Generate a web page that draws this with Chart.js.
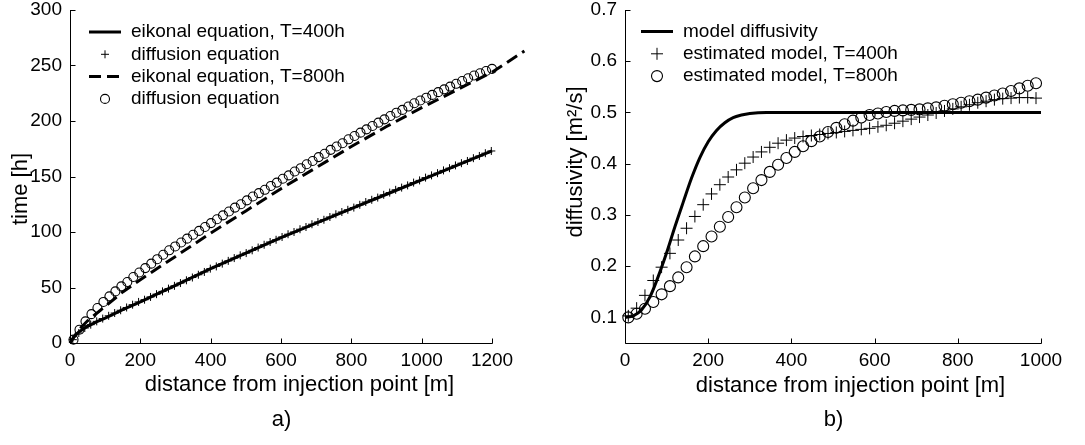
<!DOCTYPE html>
<html><head><meta charset="utf-8">
<script src="https://cdn.jsdelivr.net/npm/chart.js@4"></script>
<style>
html,body{margin:0;padding:0;background:#fff;}
#wrap{position:relative;width:1085px;height:445px;overflow:hidden;}
#c1{position:absolute;left:0;top:0;}
#c2{position:absolute;left:540px;top:0;}
</style></head><body>
<div id="wrap"><canvas id="c1" width="540" height="445"></canvas><canvas id="c2" width="545" height="445"></canvas></div>
<script>
// ---------- Panel a) data ----------
const aXTicks = [0, 200, 400, 600, 800, 1000, 1200];
const aYTicks = [0, 50, 100, 150, 200, 250, 300];
const aLabels = ['eikonal equation, T=400h', 'diffusion equation', 'eikonal equation, T=800h', 'diffusion equation'];

const eik400X = [0, 10, 25, 50, 75, 100, 150, 200, 300, 400, 500, 600, 700, 800, 900, 1000, 1100, 1200];
const eik400Y = [0, 5, 10, 15, 19, 22.5, 30, 37, 52, 67, 81, 95, 108, 121, 134, 147, 160, 173];

const dif400X = [8, 25, 42, 59, 76, 93, 110, 127, 144, 161, 178, 195, 212, 229, 246, 263, 280, 297, 314, 331, 348, 365, 382, 399, 416, 433, 450, 467, 484, 501, 518, 535, 552, 569, 586, 603, 620, 637, 654, 671, 688, 705, 722, 739, 756, 773, 790, 807, 824, 841, 858, 875, 892, 909, 926, 943, 960, 977, 994, 1011, 1028, 1045, 1062, 1079, 1096, 1113, 1130, 1147, 1164, 1181, 1198];
const dif400Y = [3, 9, 13.5, 16.5, 19.5, 22, 24.5, 27, 29.5, 32, 34.5, 37, 39, 41.5, 44, 46.5, 49, 51.5, 54, 56.5, 59, 61.5, 64, 67, 69, 71.5, 74, 76.5, 79, 81, 83.5, 86, 88.5, 91, 93, 95.5, 98, 100, 102.5, 104.5, 107, 109, 111, 113.5, 116, 118, 120, 122, 124.5, 127, 129, 131, 133.5, 135.5, 138, 140, 142, 144.5, 146.5, 149, 151, 153, 155.5, 157.5, 160, 162, 164, 166.5, 168.5, 171, 173];

const eik800X = [0, 25, 50, 100, 150, 200, 300, 400, 500, 600, 700, 800, 900, 1000, 1100, 1200, 1292];
const eik800Y = [0, 12, 20, 33, 46, 57, 78, 99, 119, 139, 158, 177, 195, 212, 228, 244, 263];

const dif800X = [10, 27, 44, 61, 78, 95, 112, 129, 146, 163, 180, 197, 214, 231, 248, 265, 282, 299, 316, 333, 350, 367, 384, 401, 418, 435, 452, 469, 486, 503, 520, 537, 554, 571, 588, 605, 622, 639, 656, 673, 690, 707, 724, 741, 758, 775, 792, 809, 826, 843, 860, 877, 894, 911, 928, 945, 962, 979, 996, 1013, 1030, 1047, 1064, 1081, 1098, 1115, 1132, 1149, 1166, 1183, 1200];
const dif800Y = [3, 12, 19.5, 26, 31.5, 37, 42, 46.5, 51, 55, 59.5, 63.5, 67.5, 71.5, 75.5, 79.5, 83.5, 87, 90.5, 94, 97.5, 101, 104.5, 108, 111.5, 115, 118.5, 122, 125, 128.5, 132, 135, 138, 141.5, 144.5, 148, 151, 154.5, 157.5, 161, 164, 167.5, 170.5, 174, 177, 180, 183.5, 186.5, 189.5, 192.5, 195.5, 198.5, 201.5, 204.5, 207.5, 210, 213, 216, 218.5, 221, 223.5, 226, 228.5, 231, 233.5, 236, 238.5, 241, 243, 245, 247];

// ---------- Panel b) data ----------
const bXTicks = [0, 200, 400, 600, 800, 1000];
const bYTicks = [0.1, 0.2, 0.3, 0.4, 0.5, 0.6, 0.7];
const bLabels = ['model diffusivity', 'estimated model, T=400h', 'estimated model, T=800h'];

const modelX = [0, 20, 40, 60, 80, 100, 120, 140, 160, 180, 200, 220, 240, 260, 280, 300, 340, 400, 1000];
const modelY = [0.1, 0.103, 0.115, 0.14, 0.18, 0.226, 0.277, 0.325, 0.372, 0.412, 0.443, 0.465, 0.48, 0.49, 0.495, 0.498, 0.5, 0.5, 0.5];

const est400X = [8, 28, 48, 68, 88, 108, 128, 148, 168, 188, 208, 228, 248, 268, 288, 308, 328, 348, 368, 388, 408, 428, 448, 468, 488, 508, 528, 548, 568, 588, 608, 628, 648, 668, 688, 708, 728, 748, 768, 788, 808, 828, 848, 868, 888, 908, 928, 948, 968, 988];
const est400Y = [0.103, 0.118, 0.143, 0.172, 0.198, 0.225, 0.251, 0.274, 0.297, 0.32, 0.341, 0.359, 0.374, 0.388, 0.401, 0.413, 0.423, 0.432, 0.44, 0.446, 0.45, 0.453, 0.455, 0.457, 0.459, 0.461, 0.463, 0.465, 0.467, 0.469, 0.472, 0.475, 0.479, 0.483, 0.487, 0.491, 0.495, 0.499, 0.503, 0.507, 0.511, 0.515, 0.519, 0.522, 0.525, 0.527, 0.528, 0.529, 0.529, 0.528];

const est800X = [8, 28, 48, 68, 88, 108, 128, 148, 168, 188, 208, 228, 248, 268, 288, 308, 328, 348, 368, 388, 408, 428, 448, 468, 488, 508, 528, 548, 568, 588, 608, 628, 648, 668, 688, 708, 728, 748, 768, 788, 808, 828, 848, 868, 888, 908, 928, 948, 968, 988];
const est800Y = [0.1, 0.107, 0.117, 0.13, 0.145, 0.161, 0.178, 0.198, 0.219, 0.239, 0.258, 0.277, 0.296, 0.315, 0.334, 0.352, 0.368, 0.384, 0.398, 0.411, 0.423, 0.434, 0.444, 0.453, 0.462, 0.47, 0.477, 0.484, 0.49, 0.495, 0.498, 0.501, 0.503, 0.504, 0.505, 0.506, 0.508, 0.51, 0.513, 0.516, 0.519, 0.522, 0.525, 0.529, 0.533, 0.537, 0.542, 0.547, 0.552, 0.557];

// ---------- helpers ----------
const FONT = "'Liberation Sans', Arial, Helvetica, sans-serif";
const zip = (xs, ys) => xs.map((x, i) => ({x: x, y: ys[i]}));

const decor = {
  id: 'decor',
  afterDraw(chart, args, o) {
    const ctx = chart.ctx, xs = chart.scales.x, ys = chart.scales.y, a = chart.chartArea;
    const x0 = Math.round(xs.getPixelForValue(o.axisX[0])) + 0.5;
    const x1 = Math.round(xs.getPixelForValue(o.axisX[1])) + 0.5;
    const yb = Math.round(a.bottom) + 0.5, yt = Math.round(a.top);
    ctx.save();
    ctx.strokeStyle = '#000'; ctx.lineWidth = 1; ctx.setLineDash([]);
    ctx.beginPath();
    ctx.moveTo(x0, yt); ctx.lineTo(x0, yb); ctx.lineTo(x1, yb);
    xs.ticks.forEach((t, i) => { const px = Math.round(xs.getPixelForTick(i)) + 0.5; ctx.moveTo(px, yb); ctx.lineTo(px, yb - o.tick); });
    ys.ticks.forEach((t, i) => { const py = Math.round(ys.getPixelForTick(i)) + 0.5; ctx.moveTo(x0, py); ctx.lineTo(x0 + o.tick, py); });
    ctx.stroke();
    ctx.fillStyle = '#000';
    ctx.font = '22px ' + FONT; ctx.textAlign = 'center'; ctx.textBaseline = 'middle';
    const cx = (x0 + x1) / 2;
    ctx.fillText(o.panel, cx, o.panelY);
    ctx.fillText(o.xTitle, cx + o.xTitleDx, o.xTitleY);
    ctx.save();
    ctx.translate(o.yTitleX, o.yTitleY); ctx.rotate(-Math.PI / 2);
    ctx.fillText(o.yTitle, 0, 0);
    ctx.restore();
    // legend
    ctx.font = o.legFont + 'px ' + FONT; ctx.textAlign = 'left';
    chart.data.datasets.forEach((ds, i) => {
      const y = o.legY + i * o.legDy;
      ctx.save();
      ctx.strokeStyle = ds.borderColor;
      if (ds.showLine) {
        ctx.lineWidth = ds.borderWidth;
        ctx.setLineDash(ds.borderDash || []);
        ctx.beginPath(); ctx.moveTo(o.lx1, y); ctx.lineTo(o.lx2, y); ctx.stroke();
      } else {
        const mx = (o.lx1 + o.lx2) / 2, r = o.legR[i];
        ctx.lineWidth = ds.borderWidth;
        ctx.beginPath();
        if (ds.pointStyle === 'cross') { ctx.moveTo(mx - r, y); ctx.lineTo(mx + r, y); ctx.moveTo(mx, y - r); ctx.lineTo(mx, y + r); }
        else { ctx.arc(mx, y, r, 0, Math.PI * 2); }
        ctx.stroke();
      }
      ctx.restore();
      ctx.fillText(ds.label, o.tx, y);
    });
    ctx.restore();
  }
};

function lineDs(label, xs, ys, dash, extra) {
  return Object.assign({label, data: zip(xs, ys), showLine: true, borderColor: '#000', borderWidth: 3, borderDash: dash, pointRadius: 0, pointHoverRadius: 0, tension: 0, clip: false}, extra || {});
}
function markDs(label, xs, ys, style, r, bw) {
  return {label, data: zip(xs, ys), showLine: false, borderColor: '#000', backgroundColor: 'rgba(0,0,0,0)', borderWidth: bw, pointStyle: style, pointRadius: r, pointHoverRadius: r, clip: false};
}
function noPad(s) { s.paddingTop = 0; s.paddingBottom = 0; s.paddingLeft = 0; s.paddingRight = 0; }

function makeOpts(cfg) {
  return {
    responsive: false, animation: false, devicePixelRatio: 1, events: [],
    layout: {padding: {left: 0, top: 10, right: cfg.padRight, bottom: 0}},
    plugins: {legend: {display: false}, tooltip: {enabled: false}, decor: cfg.decor},
    scales: {
      x: {
        type: 'linear', min: cfg.xmin, max: cfg.xmax,
        afterFit: s => { s.height = 102; noPad(s); },
        afterBuildTicks: s => { s.ticks = cfg.xTicks.map(v => ({value: v})); },
        grid: {display: false, drawTicks: false},
        border: {display: false},
        ticks: {color: '#000', font: {family: FONT, size: 19}, padding: 6, maxRotation: 0, autoSkip: false, callback: v => String(v)},
        title: {display: false}
      },
      y: {
        type: 'linear', min: cfg.ymin, max: cfg.ymax,
        afterFit: s => { s.width = cfg.yWidth; noPad(s); },
        afterBuildTicks: s => { s.ticks = cfg.yTicks.map(v => ({value: v})); },
        grid: {display: false, drawTicks: false},
        border: {display: false},
        ticks: {color: '#000', font: {family: FONT, size: 19}, padding: 8, autoSkip: false, callback: cfg.yFmt},
        title: {display: false}
      }
    }
  };
}

new Chart(document.getElementById('c1'), {
  type: 'scatter',
  data: {datasets: [
    lineDs(aLabels[0], eik400X, eik400Y, []),
    markDs(aLabels[1], dif400X, dif400Y, 'cross', 4, 1),
    lineDs(aLabels[2], eik800X, eik800Y, [12, 6]),
    markDs(aLabels[3], dif800X, dif800Y, 'circle', 4.5, 1.1)
  ]},
  options: makeOpts({
    padRight: 12.8, xmin: 0, xmax: 1300, ymin: 0, ymax: 300, xTicks: aXTicks, yTicks: aYTicks,
    yWidth: 70, yFmt: v => String(v),
    decor: {tick: 5, axisX: [0, 1200], panel: 'a)', panelY: 420,
      xTitle: 'distance from injection point [m]', xTitleDx: 18, xTitleY: 385,
      yTitle: 'time [h]', yTitleX: 21, yTitleY: 189,
      legFont: 19, legY: 32, legDy: 22.3, lx1: 89, lx2: 121, tx: 131, legR: [0, 4, 0, 4.5]}
  }),
  plugins: [decor]
});

new Chart(document.getElementById('c2'), {
  type: 'scatter',
  data: {datasets: [
    lineDs(bLabels[0], modelX, modelY, [], {cubicInterpolationMode: 'monotone'}),
    markDs(bLabels[1], est400X, est400Y, 'cross', 6, 1),
    markDs(bLabels[2], est800X, est800Y, 'circle', 5.5, 1.1)
  ]},
  options: makeOpts({
    padRight: 44, xmin: 0, xmax: 1000, ymin: 0.05, ymax: 0.7, xTicks: bXTicks, yTicks: bYTicks,
    yWidth: 85, yFmt: v => v.toFixed(1),
    decor: {tick: 5, axisX: [0, 1000], panel: 'b)', panelY: 420,
      xTitle: 'distance from injection point [m]', xTitleDx: 17, xTitleY: 386,
      yTitle: 'diffusivity [m\u00b2/s]', yTitleX: 36, yTitleY: 162,
      legFont: 19, legY: 31.5, legDy: 22.3, lx1: 101, lx2: 133, tx: 143, legR: [0, 6, 5.5]}
  }),
  plugins: [decor]
});
</script>
</body></html>
